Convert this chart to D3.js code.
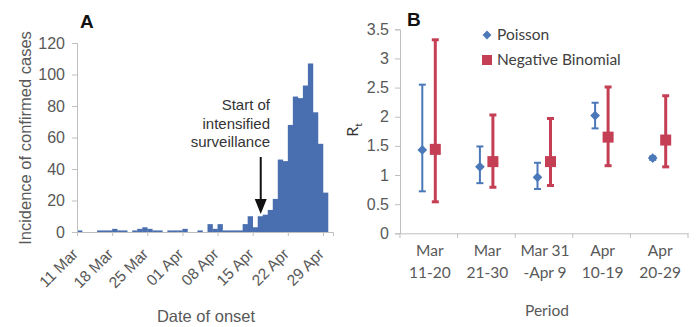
<!DOCTYPE html>
<html>
<head>
<meta charset="utf-8">
<script src="https://cdn.jsdelivr.net/npm/d3@7"></script>
<style>
  html, body { margin: 0; padding: 0; background: #fff; }
  svg { display: block; }
</style>
</head>
<body>
<svg id="chart" width="698" height="327"></svg>
<script>
// ---- Panel A: daily incidence of confirmed cases by date of onset ----
const onsetStart = "2009-03-11";
const dailyCases = [
  1, 0, 0, 0, 1, 1, 1, 2, 1, 1,        // Mar 11-20
  0, 1, 2, 3, 2, 1, 1, 0, 1, 1, 1,     // Mar 21-31
  2, 0, 0, 1, 0, 5, 2, 5, 1, 1,        // Apr 1-10
  1, 1, 5, 10, 3, 10, 11, 14, 21,      // Apr 11-19
  46, 45, 68, 86, 85, 93, 107, 76, 56, 25, // Apr 20-29
  0                                    // Apr 30
];
const weekTicks = ["2009-03-11", "2009-03-18", "2009-03-25", "2009-04-01",
                   "2009-04-08", "2009-04-15", "2009-04-22", "2009-04-29"];
const incidenceTicks = [0, 20, 40, 60, 80, 100, 120];
const surveillanceStart = "2009-04-17";
const surveillanceLabel = ["Start of", "intensified", "surveillance"];

// ---- Panel B: reproduction number estimates by period ----
const periods = [["Mar", "11-20"], ["Mar", "21-30"], ["Mar 31", "-Apr 9"], ["Apr", "10-19"], ["Apr", "20-29"]];
const poissonR     = [1.43, 1.14, 0.96, 2.02, 1.29];
const poissonLow   = [0.72, 0.86, 0.76, 1.80, 1.26];
const poissonHigh  = [2.55, 1.49, 1.21, 2.24, 1.32];
const negbinR      = [1.44, 1.23, 1.23, 1.65, 1.60];
const negbinLow    = [0.54, 0.79, 0.82, 1.16, 1.14];
const negbinHigh   = [3.32, 2.03, 1.97, 2.51, 2.36];
const rTicks = [0, 0.5, 1, 1.5, 2, 2.5, 3, 3.5];
const seriesNames = ["Poisson", "Negative Binomial"];

const svg = d3.select("#chart");
const parse = d3.timeParse("%Y-%m-%d");
const axisGrey = "#bfbfbf";
const textGrey = "#595959";
const barBlue = "#4a6fb0";
const poisBlue = "#4a78b8";
const nbRed = "#c43e54";

// ================= Panel A =================
const gA = svg.append("g").attr("font-family", "'Liberation Sans', Arial, sans-serif");
const t0 = parse(onsetStart);
const days = dailyCases.map((v, i) => ({ date: d3.timeDay.offset(t0, i), value: v }));
const xA = d3.scaleTime()
  .domain([t0, d3.timeDay.offset(t0, dailyCases.length)])
  .range([77, 333]);
const yA = d3.scaleLinear().domain([0, 120]).range([232, 43]);

gA.selectAll("rect.bar").data(days.filter(d => d.value > 0)).join("rect")
  .attr("class", "bar")
  .attr("x", d => xA(d.date))
  .attr("width", d => xA(d3.timeDay.offset(d.date, 1)) - xA(d.date) + 0.3)
  .attr("y", d => yA(d.value))
  .attr("height", d => yA(0) - yA(d.value))
  .attr("fill", barBlue);

// y axis
const yAxisA = gA.append("g").attr("transform", "translate(77,0)")
  .call(d3.axisLeft(yA).tickValues(incidenceTicks).tickSize(5).tickPadding(7));
// x axis
const xAxisA = gA.append("g").attr("transform", "translate(0,232)")
  .call(d3.axisBottom(xA).tickValues(weekTicks.map(parse)).tickSize(4).tickFormat(""));
[yAxisA, xAxisA].forEach(a => {
  a.select(".domain").attr("stroke", axisGrey);
  a.selectAll(".tick line").attr("stroke", axisGrey);
  a.selectAll(".tick text").attr("fill", textGrey).attr("font-size", 16);
});

// rotated date labels
const fmt = d3.timeFormat("%d %b");
gA.selectAll("text.date").data(weekTicks.map(parse)).join("text")
  .attr("class", "date")
  .attr("transform", d => `translate(${xA(d) + 2},${255}) rotate(-45)`)
  .attr("text-anchor", "end")
  .attr("font-size", 15.5)
  .attr("fill", textGrey)
  .text(d => fmt(d));

gA.append("text")
  .attr("transform", "translate(31,138) rotate(-90)")
  .attr("text-anchor", "middle")
  .attr("font-size", 16.5)
  .attr("fill", textGrey)
  .text("Incidence of confirmed cases");

gA.append("text")
  .attr("x", 206).attr("y", 322)
  .attr("text-anchor", "middle")
  .attr("font-size", 16.5)
  .attr("fill", textGrey)
  .text("Date of onset");

gA.append("text")
  .attr("x", 80).attr("y", 28)
  .attr("font-size", 19).attr("font-weight", "bold")
  .attr("fill", "#111")
  .text("A");

// surveillance annotation and arrow
const arrowX = xA(parse(surveillanceStart)) - 2;
gA.selectAll("text.note").data(surveillanceLabel).join("text")
  .attr("class", "note")
  .attr("x", 270)
  .attr("y", (d, i) => 110 + i * 18.5)
  .attr("text-anchor", "end")
  .attr("font-size", 15)
  .attr("fill", "#333")
  .text(d => d);
gA.append("line")
  .attr("x1", arrowX).attr("x2", arrowX)
  .attr("y1", 157).attr("y2", 204)
  .attr("stroke", "#111").attr("stroke-width", 2);
gA.append("path")
  .attr("d", `M${arrowX - 6},199 L${arrowX + 6},199 L${arrowX},214 Z`)
  .attr("fill", "#111");

// ================= Panel B =================
const gB = svg.append("g").attr("font-family", "Lato, 'Open Sans', sans-serif");
const xB = d3.scaleBand().domain(d3.range(periods.length)).range([400, 688]);
const yB = d3.scaleLinear().domain([0, 3.5]).range([233.3, 29.3]);
const off = 6.5;

const yAxisB = gB.append("g").attr("transform", "translate(400,0)")
  .call(d3.axisLeft(yB).tickValues(rTicks).tickSize(5).tickPadding(6).tickFormat(d3.format("")));
const xAxisB = gB.append("g").attr("transform", "translate(0,233.3)")
  .call(d3.axisBottom(xB).tickSize(0).tickFormat(""));
xAxisB.selectAll(".tick").remove();
[yAxisB, xAxisB].forEach(a => {
  a.select(".domain").attr("stroke", axisGrey);
  a.selectAll(".tick line").attr("stroke", axisGrey);
  a.selectAll(".tick text").attr("fill", textGrey).attr("font-size", 16);
});
// category separators below x axis
gB.selectAll("line.sep").data(d3.range(periods.length + 1)).join("line")
  .attr("class", "sep")
  .attr("x1", i => 400 + i * xB.step()).attr("x2", i => 400 + i * xB.step())
  .attr("y1", 233.3).attr("y2", 238)
  .attr("stroke", axisGrey);

const cx = i => xB(i) + xB.bandwidth() / 2;

// Poisson error bars and diamonds
const pois = gB.append("g");
periods.forEach((p, i) => {
  const x = cx(i) - off;
  pois.append("line").attr("x1", x).attr("x2", x)
    .attr("y1", yB(poissonLow[i])).attr("y2", yB(poissonHigh[i]))
    .attr("stroke", poisBlue).attr("stroke-width", 2);
  [poissonLow[i], poissonHigh[i]].forEach(v => {
    pois.append("line").attr("x1", x - 3.5).attr("x2", x + 3.5)
      .attr("y1", yB(v)).attr("y2", yB(v))
      .attr("stroke", poisBlue).attr("stroke-width", 2);
  });
  pois.append("path")
    .attr("d", d3.symbol(d3.symbolDiamond2, 60)())
    .attr("transform", `translate(${x},${yB(poissonR[i])})`)
    .attr("fill", poisBlue);
});

// Negative binomial error bars and squares
const nb = gB.append("g");
periods.forEach((p, i) => {
  const x = cx(i) + off;
  nb.append("line").attr("x1", x).attr("x2", x)
    .attr("y1", yB(negbinLow[i])).attr("y2", yB(negbinHigh[i]))
    .attr("stroke", nbRed).attr("stroke-width", 3);
  [negbinLow[i], negbinHigh[i]].forEach(v => {
    nb.append("line").attr("x1", x - 3.5).attr("x2", x + 3.5)
      .attr("y1", yB(v)).attr("y2", yB(v))
      .attr("stroke", nbRed).attr("stroke-width", 3);
  });
  nb.append("rect")
    .attr("x", x - 5.5).attr("y", yB(negbinR[i]) - 5.5)
    .attr("width", 11).attr("height", 11)
    .attr("fill", nbRed);
});

// category labels
gB.selectAll("text.period").data(periods).join("text")
  .attr("class", "period")
  .attr("text-anchor", "middle")
  .attr("font-size", 15.5)
  .attr("fill", textGrey)
  .each(function (d, i) {
    d3.select(this).selectAll("tspan").data(d).join("tspan")
      .attr("x", cx(i) + 1)
      .attr("y", (t, j) => 256 + j * 22)
      .text(t => t);
  });

gB.append("text")
  .attr("x", 547).attr("y", 316)
  .attr("text-anchor", "middle")
  .attr("font-size", 15.5)
  .attr("fill", textGrey)
  .text("Period");

const rt = gB.append("text")
  .attr("transform", "translate(358,130) rotate(-90)")
  .attr("text-anchor", "middle")
  .attr("font-size", 16)
  .attr("fill", "#333");
rt.append("tspan").text("R");
rt.append("tspan").attr("font-size", 10).attr("dy", 4).text("t");

gB.append("text")
  .attr("x", 407).attr("y", 26)
  .attr("font-size", 19).attr("font-weight", "bold")
  .attr("fill", "#111")
  .attr("font-family", "'Liberation Sans', Arial, sans-serif")
  .text("B");

// legend
const legend = gB.append("g");
legend.append("path")
  .attr("d", d3.symbol(d3.symbolDiamond2, 50)())
  .attr("transform", "translate(487,35)")
  .attr("fill", poisBlue);
legend.append("rect")
  .attr("x", 482).attr("y", 55).attr("width", 10).attr("height", 10)
  .attr("fill", nbRed);
legend.selectAll("text.leg").data(seriesNames).join("text")
  .attr("class", "leg")
  .attr("x", 497)
  .attr("y", (d, i) => 40 + i * 25)
  .attr("font-size", 15.5)
  .attr("fill", "#404040")
  .text(d => d);
</script>
</body>
</html>
